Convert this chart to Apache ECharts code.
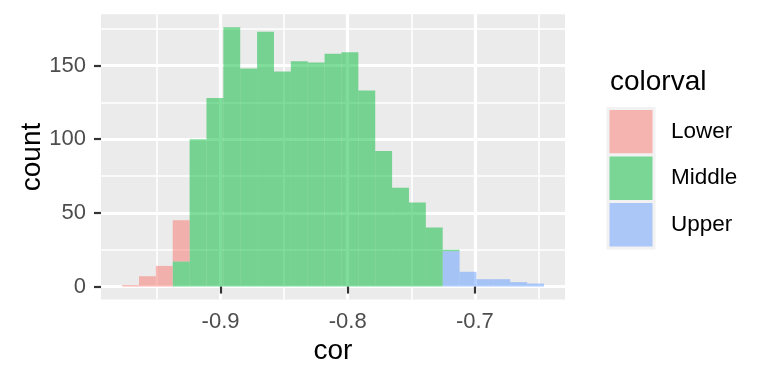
<!DOCTYPE html>
<html><head><meta charset="utf-8">
<script src="https://cdn.jsdelivr.net/npm/echarts@6/dist/echarts.min.js"></script>
<style>html,body{margin:0;padding:0;background:#fff}#c{width:768px;height:384px}</style>
</head><body><div id="c"></div>
<script>
// ---- data ----
const binStart = -0.9774;
const binWidth = 0.01327;
const lowerCounts  = [1,7,14,28,0,0,0,0,0,0,0,0,0,0,0,0,0,0,0,0,0,0,0,0,0];
const middleCounts = [0,0,0,17,100,128,176,148,173,146,153,152,158,159,133,92,67,57,40,1,0,0,0,0,0];
const upperCounts  = [0,0,0,0,0,0,0,0,0,0,0,0,0,0,0,0,0,0,0,24,10,5,5,3,2];
const groups = ['Lower','Middle','Upper'];
const xMajorTicks = [-0.9,-0.8,-0.7];
const xMinorTicks = [-0.95,-0.85,-0.75,-0.65];
const yMajorTicks = [0,50,100,150];
const yMinorTicks = [25,75,125,175];
const xTickLabels = ['-0.9','-0.8','-0.7'];
const yTickLabels = ['0','50','100','150'];
const xTitle = 'cor';
const yTitle = 'count';
const legendTitle = 'colorval';

// ---- styles ----
const FONT = "'Liberation Sans', Arial, Helvetica, sans-serif";
const fillColors = {Lower:'rgba(248,118,109,0.5)', Middle:'rgba(0,186,56,0.5)', Upper:'rgba(97,156,255,0.5)'};
const keyColors = {Lower:'#F5B4AF', Middle:'#79D695', Upper:'#AAC7F8'};

function labelFor(v, ticks, labels){
  let best = 0, d = Infinity;
  ticks.forEach((t,i)=>{ const dd = Math.abs(t - v); if (dd < d){ d = dd; best = i; } });
  return labels[best];
}

// stack order bottom -> top: Upper, Middle, Lower
const countsByGroup = {Lower: lowerCounts, Middle: middleCounts, Upper: upperCounts};
const stackOrder = ['Upper','Middle','Lower'];
const base = new Array(lowerCounts.length).fill(0);
const series = [];
stackOrder.forEach(g => {
  const counts = countsByGroup[g];
  const data = counts.map((c,i) => {
    const row = [binStart + i*binWidth, binStart + (i+1)*binWidth, base[i], base[i] + c, c];
    base[i] += c;
    return row;
  });
  series.push({
    name: g, type: 'custom', xAxisIndex: 0, yAxisIndex: 0,
    itemStyle: {color: fillColors[g]},
    encode: {x: [0,1], y: [2,3]},
    data: data,
    renderItem: function(params, api){
      if (api.value(4) <= 0) return null;
      const p0 = api.coord([api.value(0), api.value(2)]);
      const p1 = api.coord([api.value(1), api.value(3)]);
      return {type:'rect', shape:{x:p0[0], y:p1[1], width:p1[0]-p0[0], height:p0[1]-p1[1]},
              style:{fill: fillColors[g]}};
    }
  });
});

const xMin = -0.994, xMax = -0.6291, yMin = -8.8, yMax = 184.8;

const option = {
  animation: false,
  backgroundColor: '#ffffff',
  grid: {left: 101, right: 203, top: 14.3, bottom: 84.5, show: true, backgroundColor: '#EBEBEB', borderWidth: 0},
  xAxis: [
    {type:'value', min:xMin, max:xMax, position:'bottom',
     axisLine:{show:false},
     axisTick:{show:true, length:7, customValues:xMajorTicks, lineStyle:{color:'#333333', width:2.2}},
     axisLabel:{show:true, customValues:xMajorTicks, margin:22, verticalAlign:'middle',
       formatter:v=>labelFor(v,xMajorTicks,xTickLabels), fontSize:22, color:'#4D4D4D', fontFamily:FONT},
     splitLine:{show:true, lineStyle:{color:'#ffffff', width:3.2}}},
    {type:'value', min:xMin, max:xMax, position:'bottom',
     axisLine:{show:false},
     axisTick:{show:false, customValues:xMinorTicks},
     axisLabel:{show:false, customValues:xMinorTicks},
     splitLine:{show:true, lineStyle:{color:'#ffffff', width:1.6}}}
  ],
  yAxis: [
    {type:'value', min:yMin, max:yMax, position:'left',
     axisLine:{show:false},
     axisTick:{show:true, length:7, customValues:yMajorTicks, lineStyle:{color:'#333333', width:2.2}},
     axisLabel:{show:true, customValues:yMajorTicks, margin:15,
       formatter:v=>labelFor(v,yMajorTicks,yTickLabels), fontSize:22, color:'#4D4D4D', fontFamily:FONT},
     splitLine:{show:true, lineStyle:{color:'#ffffff', width:3.2}}},
    {type:'value', min:yMin, max:yMax, position:'left',
     axisLine:{show:false},
     axisTick:{show:false, customValues:yMinorTicks},
     axisLabel:{show:false, customValues:yMinorTicks},
     splitLine:{show:true, lineStyle:{color:'#ffffff', width:1.6}}}
  ],
  legend: {
    orient:'vertical', left:606.5, top:107, padding:0, itemGap:-3,
    itemWidth:46, itemHeight:46.5, icon:'rect', selectedMode:false,
    textStyle:{fontSize:22.5, color:'#000000', fontFamily:FONT, padding:[0,0,0,12]},
    data: groups.map(g => ({name:g, itemStyle:{color:keyColors[g], borderColor:'#F2F2F2', borderWidth:3}}))
  },
  graphic: [
    {type:'text', x:610, y:82, style:{text:legendTitle, fontSize:28, fontFamily:FONT, fill:'#000', align:'left', verticalAlign:'middle'}},
    {type:'text', x:333, y:351, style:{text:xTitle, fontSize:28, fontFamily:FONT, fill:'#000', align:'center', verticalAlign:'middle'}},
    {type:'text', x:32, y:157, rotation:Math.PI/2, style:{text:yTitle, fontSize:28, fontFamily:FONT, fill:'#000', align:'center', verticalAlign:'middle'}}
  ],
  series: series
};

const chart = echarts.init(document.getElementById('c'), null, {renderer:'canvas'});
chart.setOption(option);
</script>
</body></html>
